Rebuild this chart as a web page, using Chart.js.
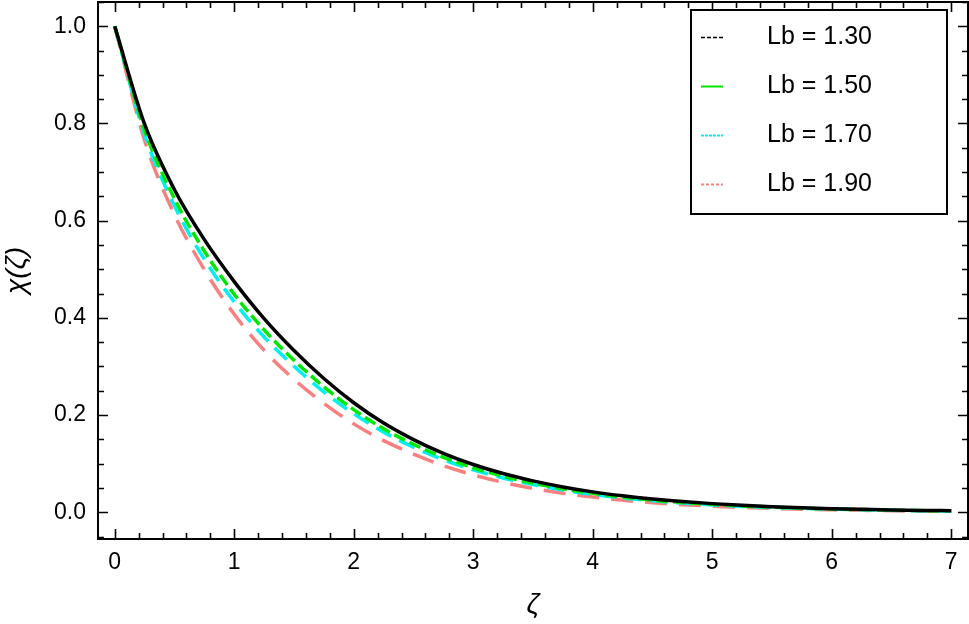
<!DOCTYPE html>
<html>
<head>
<meta charset="utf-8">
<script src="https://cdn.jsdelivr.net/npm/chart.js@4/dist/chart.umd.min.js"></script>
<style>
  body { margin: 0; background: #fff; }
  #wrap { width: 969px; height: 624px; }
</style>
</head>
<body>
<div id="wrap"><canvas id="chart" width="969" height="624"></canvas></div>
<script>
// ζ values (x axis)
const zeta = [0, 0.25, 0.5, 0.75, 1, 1.25, 1.5, 1.75, 2, 2.25, 2.5, 2.75, 3, 3.25, 3.5,
    3.75, 4, 4.25, 4.5, 4.75, 5, 5.25, 5.5, 5.75, 6, 6.25, 6.5, 6.75, 7];

// χ(ζ), one array per Lb
const lb130 = [1.000, 0.7985, 0.6637, 0.5610, 0.4747, 0.3985, 0.3329, 0.2753, 0.2254, 0.1836, 0.1496, 0.1212, 0.0983, 0.0797, 0.0646,
    0.0521, 0.0420, 0.0339, 0.0273, 0.0220, 0.0178, 0.0143, 0.0116, 0.0093, 0.0075, 0.0061, 0.0049, 0.0039, 0.0032];
const lb150 = [1.000, 0.7865, 0.6451, 0.5374, 0.4486, 0.3754, 0.3129, 0.2582, 0.2112, 0.1719, 0.1399, 0.1132, 0.0917, 0.0742, 0.0600,
    0.0483, 0.0389, 0.0313, 0.0251, 0.0202, 0.0163, 0.0131, 0.0106, 0.0085, 0.0068, 0.0055, 0.0044, 0.0035, 0.0029];
const lb170 = [1.000, 0.7769, 0.6305, 0.5206, 0.4329, 0.3606, 0.3003, 0.2478, 0.2026, 0.1649, 0.1340, 0.1082, 0.0875, 0.0706, 0.0570,
    0.0457, 0.0366, 0.0294, 0.0235, 0.0189, 0.0152, 0.0121, 0.0098, 0.0078, 0.0062, 0.0050, 0.0040, 0.0032, 0.0026];
const lb190 = [1.000, 0.7650, 0.6126, 0.4993, 0.4073, 0.3331, 0.2736, 0.2238, 0.1819, 0.1474, 0.1197, 0.0960, 0.0769, 0.0615, 0.0492,
    0.0392, 0.0312, 0.0248, 0.0198, 0.0157, 0.0126, 0.0100, 0.0080, 0.0063, 0.0051, 0.0041, 0.0032, 0.0025, 0.0021];

const seriesLabels = ['Lb = 1.30', 'Lb = 1.50', 'Lb = 1.70', 'Lb = 1.90'];

// tick labels
const xTickValues = [0, 1, 2, 3, 4, 5, 6, 7];
const yTickValues = [0.0, 0.2, 0.4, 0.6, 0.8, 1.0];

const FONT = "'Liberation Sans', Arial, sans-serif";

function toPoints(ys) {
    return zeta.map((z, i) => ({ x: z, y: ys[i] }));
}

// 枠・目盛り・凡例を描く
const framePlugin = {
    id: 'frame',
    afterDraw(chart) {
        const { ctx, chartArea: a, scales: { x, y } } = chart;
        ctx.save();
        ctx.strokeStyle = '#000';
        ctx.lineWidth = 2;
        ctx.strokeRect(a.left, a.top, a.right - a.left, a.bottom - a.top);

        // inward ticks on all four sides
        ctx.lineWidth = 1.6;
        ctx.beginPath();
        for (let i = 0; i <= 35; i++) {
            const v = i * 0.2;
            const px = Math.round(x.getPixelForValue(v)) + 0.5;
            const len = (i % 5 === 0) ? 10 : 6;
            ctx.moveTo(px, a.bottom); ctx.lineTo(px, a.bottom - len);
            ctx.moveTo(px, a.top); ctx.lineTo(px, a.top + len);
        }
        for (let i = -1; i <= 21; i++) {
            const v = i * 0.05;
            const py = Math.round(y.getPixelForValue(v)) + 0.5;
            const len = (i % 4 === 0) ? 10 : 6;
            ctx.moveTo(a.left, py); ctx.lineTo(a.left + len, py);
            ctx.moveTo(a.right, py); ctx.lineTo(a.right - len, py);
        }
        ctx.stroke();

        // legend box
        const bx = 691, by = 10, bw = 256, bh = 204;
        ctx.fillStyle = '#fff';
        ctx.fillRect(bx, by, bw, bh);
        ctx.lineWidth = 2;
        ctx.strokeRect(bx, by, bw, bh);
        ctx.font = '25px ' + FONT;
        ctx.textBaseline = 'middle';
        ctx.textAlign = 'left';
        chart.data.datasets.forEach((ds, i) => {
            const cy = 37 + i * 49;
            ctx.strokeStyle = ds.borderColor;
            ctx.lineWidth = ds.legendWidth;
            ctx.setLineDash(ds.legendDash);
            ctx.beginPath();
            ctx.moveTo(701, cy + 0.5); ctx.lineTo(723, cy + 0.5);
            ctx.stroke();
            ctx.setLineDash([]);
            ctx.fillStyle = '#000';
            ctx.fillText(ds.label, 767, cy);
        });
        ctx.restore();
    }
};

new Chart(document.getElementById('chart'), {
    type: 'line',
    data: {
        datasets: [
            { label: seriesLabels[0], data: toPoints(lb130), borderColor: '#000000', borderWidth: 3.5, borderDash: [],
              legendDash: [4, 2], legendWidth: 1.5 },
            { label: seriesLabels[1], data: toPoints(lb150), borderColor: '#00e600', borderWidth: 3.5, borderDash: [12, 5],
              legendDash: [], legendWidth: 2 },
            { label: seriesLabels[2], data: toPoints(lb170), borderColor: '#00f0f0', borderWidth: 3.5, borderDash: [17, 9],
              legendDash: [3, 1], legendWidth: 2 },
            { label: seriesLabels[3], data: toPoints(lb190), borderColor: '#f88080', borderWidth: 3.5, borderDash: [22, 12],
              legendDash: [3, 2], legendWidth: 2 }
        ]
    },
    options: {
        responsive: false,
        animation: false,
        devicePixelRatio: 1,
        layout: { padding: { top: 2, right: 1, left: 0, bottom: 0 } },
        elements: {
            point: { radius: 0 },
            line: { cubicInterpolationMode: 'monotone', borderCapStyle: 'butt', fill: false }
        },
        scales: {
            x: {
                type: 'linear',
                min: -0.14,
                max: 7.14,
                afterBuildTicks: s => { s.ticks = xTickValues.map(v => ({ value: v })); },
                afterFit: s => { s.height = 85; s.paddingLeft = 0; s.paddingRight = 0; },
                grid: { display: false, drawTicks: false },
                border: { display: false },
                ticks: {
                    color: '#000',
                    font: { family: FONT, size: 23 },
                    padding: 10,
                    maxRotation: 0,
                    callback: v => String(v)
                },
                title: {
                    display: true,
                    text: 'ζ',
                    color: '#000',
                    font: { family: FONT, size: 28, style: 'italic' },
                    padding: { top: 0, bottom: 2 }
                }
            },
            y: {
                type: 'linear',
                min: -0.055,
                max: 1.05,
                afterBuildTicks: s => { s.ticks = yTickValues.map(v => ({ value: v })); },
                afterFit: s => { s.width = 98; s.paddingTop = 0; s.paddingBottom = 0; },
                grid: { display: false, drawTicks: false },
                border: { display: false },
                ticks: {
                    color: '#000',
                    font: { family: FONT, size: 23 },
                    padding: 12,
                    callback: v => Number(v).toFixed(1)
                },
                title: {
                    display: true,
                    text: 'χ(ζ)',
                    color: '#000',
                    font: { family: FONT, size: 28, style: 'italic' },
                    padding: { top: 0, bottom: 0 }
                }
            }
        },
        plugins: {
            legend: { display: false },
            tooltip: { enabled: false }
        }
    },
    plugins: [framePlugin]
});
</script>
</body>
</html>
